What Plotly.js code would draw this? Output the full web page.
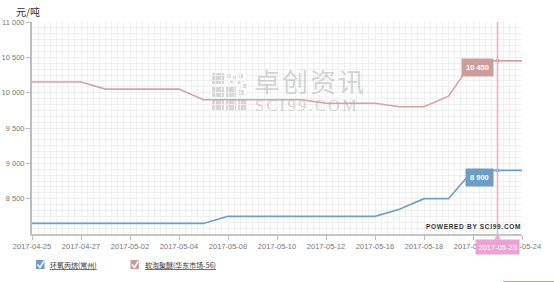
<!DOCTYPE html>
<html>
<head>
<meta charset="utf-8">
<script src="https://cdn.plot.ly/plotly-3.0.1.min.js"></script>
<style>html,body{margin:0;padding:0;background:#fff;}#chart{width:554px;height:282px;}</style>
</head>
<body>
<div id="chart"></div>
<script>
// ---- data ----
const dates = ['2017-04-25','2017-04-26','2017-04-27','2017-04-28','2017-05-02','2017-05-03','2017-05-04','2017-05-05',
  '2017-05-08','2017-05-09','2017-05-10','2017-05-11','2017-05-12','2017-05-15','2017-05-16','2017-05-17',
  '2017-05-18','2017-05-19','2017-05-22','2017-05-23','2017-05-24'];
const tickDates = ['2017-04-25','2017-04-27','2017-05-02','2017-05-04','2017-05-08','2017-05-10','2017-05-12',
  '2017-05-16','2017-05-18','2017-05-22','2017-05-24'];
const seriesNames = ['环氧丙烷(常州)', '软泡聚醚(华东市场-56)'];
const blueValues = [8150,8150,8150,8150,8150,8150,8150,8150,8250,8250,8250,8250,8250,8250,8250,8350,8500,8500,8900,8900,8900];
const pinkValues = [10150,10150,10150,10050,10050,10050,10050,9900,9900,9900,9900,9900,9850,9850,9850,9800,9800,9950,10450,10450,10450];
const yTicks = [8500,9000,9500,10000,10500,11000];
const hoverDate = '2017-05-23';
const yUnit = '元/吨';

// ---- styles ----
const blue = '#6f9fc8', pink = '#d4a4a2';
const blueBox = '#6c9dc5', pinkBox = '#cc9d9b', crossColor = '#eeaadb', dateBox = '#e9a4d6';
const gridColor = '#efefef';
const L = 32, R = 522, T = 22, B = 234;
const px = v => (v - L) / (R - L);
const py = v => (B - v) / (B - T);
const fmt = v => String(v).replace(/\B(?=(\d{3})+(?!\d))/g, ' ');

const xIdx = dates.map((d, i) => i);
const hi = dates.indexOf(hoverDate);
const catW = (R - L) / (dates.length - 1);

const traces = [
  {x: xIdx, y: blueValues, type: 'scatter', mode: 'lines', line: {color: blue, width: 1.6}, name: seriesNames[0], hoverinfo: 'skip'},
  {x: xIdx, y: pinkValues, type: 'scatter', mode: 'lines', line: {color: pink, width: 1.6}, name: seriesNames[1], hoverinfo: 'skip'},
  {x: [xIdx[hi], xIdx[hi]], y: [blueValues[hi], pinkValues[hi]], type: 'scatter', mode: 'markers',
   marker: {color: [blue, pink], size: 4}, hoverinfo: 'skip'}
];

const checkPath = (x0) => 'M ' + px(x0 + 1.5) + ' ' + py(264.5) + ' L ' + px(x0 + 4) + ' ' + py(267.5) + ' L ' + px(x0 + 8) + ' ' + py(260.8);
const hx = xIdx[hi], tw = 3.5 / catW;
const shapes = [
  {type: 'line', xref: 'x', yref: 'paper', x0: hx, x1: hx, y0: 0, y1: 1, line: {color: crossColor, width: 1.5}},
  // date label pointer
  {type: 'path', xref: 'x', yref: 'paper', path: 'M ' + (hx - tw) + ' ' + py(239.5) + ' L ' + hx + ' ' + py(234.5) + ' L ' + (hx + tw) + ' ' + py(239.5) + ' Z',
   fillcolor: dateBox, line: {width: 0}},
  // legend boxes
  {type: 'rect', xref: 'paper', yref: 'paper', x0: px(36), x1: px(44.5), y0: py(269), y1: py(260), fillcolor: blueBox, line: {width: 0}},
  {type: 'rect', xref: 'paper', yref: 'paper', x0: px(130.5), x1: px(139), y0: py(269), y1: py(260), fillcolor: pinkBox, line: {width: 0}},
  {type: 'path', xref: 'paper', yref: 'paper', path: checkPath(36), line: {color: '#fff', width: 1.5}},
  {type: 'path', xref: 'paper', yref: 'paper', path: checkPath(130.5), line: {color: '#fff', width: 1.5}},
  // orange line bottom right
  {type: 'line', xref: 'paper', yref: 'paper', x0: px(503), x1: px(554), y0: py(281.5), y1: py(281.5), line: {color: '#f5a04a', width: 1}}
];
// watermark icon blocks
const iconCells = [
  [212,73,224,84],[212,86,224,97],[212,99,224,110],
  [226,86,236,97],[226,99,236,110],
  [238,99,247,110],
  [227,74,231,78],[233,76,236,79],[239,74,243,78],[238,81,241,84],[243,84,247,88],[230,80,233,83],[239,90,244,95]
];
iconCells.forEach(c => shapes.push({type: 'rect', xref: 'paper', yref: 'paper', x0: px(c[0]), x1: px(c[2]), y0: py(c[3]), y1: py(c[1]),
  fillcolor: 'rgba(175,175,175,0.5)', line: {width: 0}, layer: 'below'}));

const annotations = [
  {xref: 'paper', yref: 'paper', x: px(14), y: py(12), xanchor: 'left', yanchor: 'middle', text: yUnit, showarrow: false,
   font: {size: 10, color: '#333', family: 'Noto Sans CJK SC'}},
  {xref: 'paper', yref: 'paper', x: px(310), y: py(80), xanchor: 'center', yanchor: 'middle', showarrow: false,
   text: '<span style="letter-spacing:2px">卓创资讯</span>', font: {size: 26, color: 'rgba(170,170,170,0.5)', family: 'Noto Sans CJK SC'}},
  {xref: 'paper', yref: 'paper', x: px(307), y: py(105), xanchor: 'center', yanchor: 'middle', showarrow: false,
   text: '<span style="letter-spacing:2.5px">SCI99.COM</span>', font: {size: 16, color: 'rgba(170,170,170,0.5)', family: 'Liberation Serif'}},
  {xref: 'paper', yref: 'paper', x: px(473), y: py(226), xanchor: 'center', yanchor: 'middle', showarrow: false,
   text: '<b><span style="letter-spacing:0.7px">POWERED BY SCI99.COM</span></b>', font: {size: 6.5, color: '#333', family: 'Liberation Sans'}},
  // tooltips
  {xref: 'x', yref: 'y', x: hx, y: pinkValues[hi], xanchor: 'right', yanchor: 'top', xshift: -4, yshift: 3, showarrow: false,
   text: '<b>' + fmt(pinkValues[hi]) + '</b>', bgcolor: pinkBox, borderpad: 4, font: {size: 7.5, color: '#fff', family: 'Liberation Sans'}},
  {xref: 'x', yref: 'y', x: hx, y: blueValues[hi], xanchor: 'right', yanchor: 'top', xshift: -4, yshift: 2, showarrow: false,
   text: '<b>' + fmt(blueValues[hi]) + '</b>', bgcolor: blueBox, borderpad: 4, font: {size: 7.5, color: '#fff', family: 'Liberation Sans'}},
  // crosshair date label
  {xref: 'x', yref: 'paper', x: hx, y: py(239), xanchor: 'center', yanchor: 'top', showarrow: false,
   text: hoverDate, bgcolor: dateBox, borderpad: 2.5, font: {size: 7.5, color: '#fff', family: 'Liberation Sans'}},
  // legend
  {xref: 'paper', yref: 'paper', x: px(48), y: py(265), xanchor: 'left', yanchor: 'middle', showarrow: false,
   text: '<u>' + seriesNames[0] + '</u>', font: {size: 7, color: '#333', family: 'Noto Sans CJK SC'}},
  {xref: 'paper', yref: 'paper', x: px(142.5), y: py(265), xanchor: 'left', yanchor: 'middle', showarrow: false,
   text: '<u>' + seriesNames[1] + '</u>', font: {size: 7, color: '#333', family: 'Noto Sans CJK SC'}}
];

const layout = {
  width: 554, height: 282,
  margin: {l: L, r: 554 - R, t: T, b: 282 - B, pad: 0},
  paper_bgcolor: '#fff', plot_bgcolor: '#fff',
  showlegend: false,
  separators: '. ',
  font: {family: 'Liberation Sans, Arial, sans-serif', size: 7.5, color: '#666'},
  xaxis: {
    type: 'linear', range: [0, dates.length - 1], tickmode: 'array',
    tickvals: tickDates.map(d => dates.indexOf(d)), ticktext: tickDates,
    ticks: 'outside', ticklen: 4, tickcolor: '#bbb', tickwidth: 1,
    showline: true, linecolor: '#c4c4c4', linewidth: 2,
    showgrid: true, gridcolor: gridColor, gridwidth: 1, zeroline: false,
    minor: {tickmode: 'linear', tick0: 0, dtick: 0.25, showgrid: true, gridcolor: gridColor, gridwidth: 1, ticks: ''},
    tickfont: {size: 7.5, color: '#777'}, fixedrange: true
  },
  yaxis: {
    range: [8000, 11000], tickmode: 'array', tickvals: yTicks, tickformat: ',d',
    ticks: 'outside', ticklen: 4, tickcolor: '#bbb', tickwidth: 1,
    showline: true, linecolor: '#bdbdbd', linewidth: 2,
    showgrid: true, gridcolor: gridColor, gridwidth: 1, zeroline: false,
    minor: {tickmode: 'linear', tick0: 8000, dtick: 500 / 6, showgrid: true, gridcolor: gridColor, gridwidth: 1, ticks: ''},
    tickfont: {size: 7.5, color: '#777'}, fixedrange: true
  },
  shapes: shapes,
  annotations: annotations
};

Plotly.newPlot('chart', traces, layout, {displayModeBar: false, staticPlot: true});
</script>
</body>
</html>
